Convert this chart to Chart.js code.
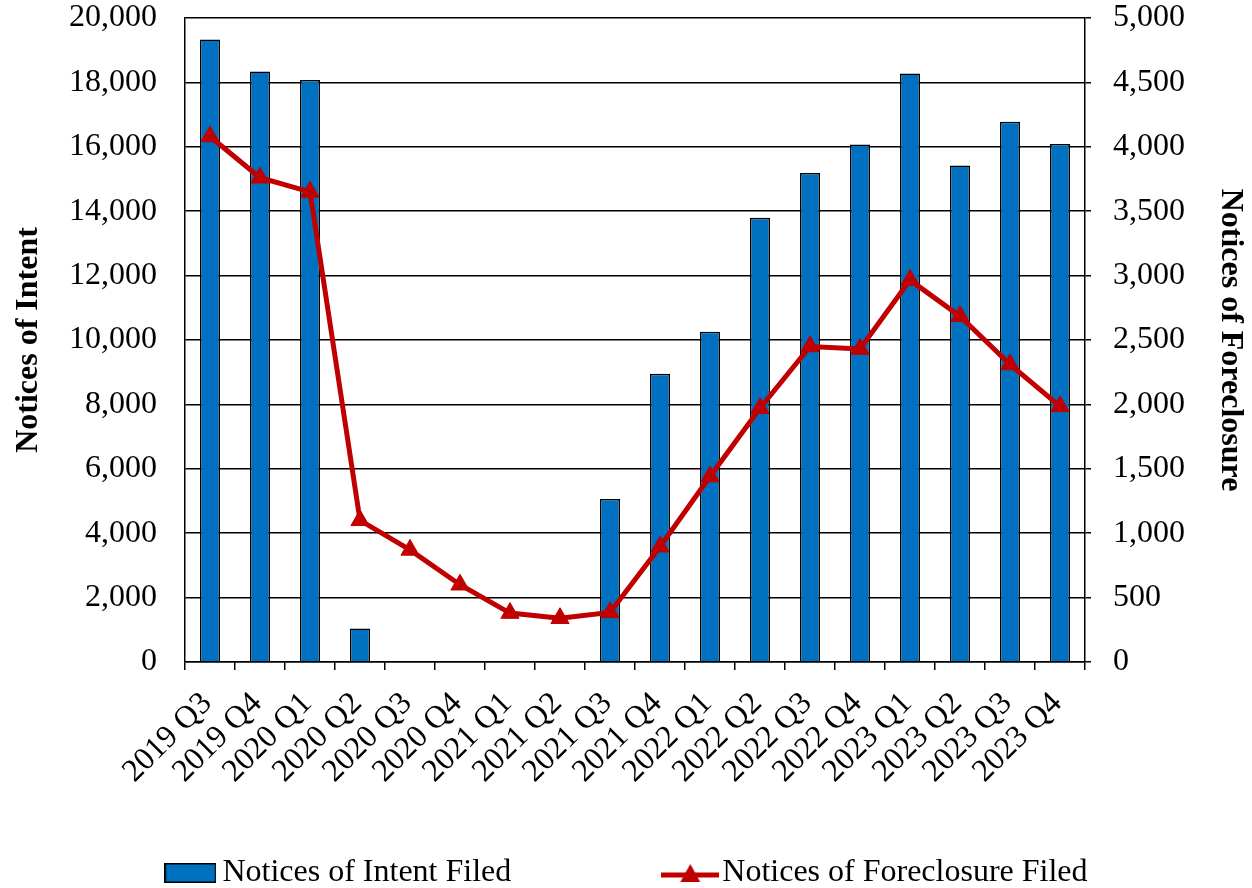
<!DOCTYPE html>
<html>
<head>
<meta charset="utf-8">
<script src="https://cdn.jsdelivr.net/npm/chart.js@4"></script>
<style>
  html, body { margin: 0; padding: 0; background: #fff; }
  #wrap { width: 1252px; height: 888px; }
</style>
</head>
<body>
<div id="wrap"><canvas id="chart"></canvas></div>
<script>
const quarters = ['2019 Q3', '2019 Q4', '2020 Q1', '2020 Q2', '2020 Q3', '2020 Q4', '2021 Q1', '2021 Q2', '2021 Q3',
  '2021 Q4', '2022 Q1', '2022 Q2', '2022 Q3', '2022 Q4', '2023 Q1', '2023 Q2', '2023 Q3', '2023 Q4'];
const intent_filed = [19330, 18340, 18075, 1040, 0, 0, 0, 0, 5060, 8950, 10260, 13800, 15190, 16070, 18280, 15420, 16780, 16090];
const foreclosure_filed = [4080, 3760, 3650, 1100, 870, 600, 380, 340, 385, 895, 1440, 1970, 2450, 2430, 2965, 2685, 2310, 1985];

const blue = '#0070C0';
const red = '#C00000';

Chart.defaults.font.family = "'Liberation Serif', 'Times New Roman', serif";
Chart.defaults.font.size = 32;
Chart.defaults.color = '#000';

// legend swatches
function barSwatch() {
  const c = document.createElement('canvas');
  c.width = 52; c.height = 20;
  const g = c.getContext('2d');
  g.fillStyle = blue;
  g.fillRect(0, 0, 52, 20);
  g.strokeStyle = '#000';
  g.lineWidth = 1.5;
  g.strokeRect(0.75, 0.75, 50.5, 18.5);
  return c;
}
function lineSwatch() {
  const c = document.createElement('canvas');
  c.width = 58; c.height = 24;
  const g = c.getContext('2d');
  g.strokeStyle = red;
  g.lineWidth = 5;
  g.beginPath(); g.moveTo(0, 14); g.lineTo(58, 14); g.stroke();
  g.fillStyle = red;
  g.beginPath(); g.moveTo(29, 3); g.lineTo(39, 21); g.lineTo(19, 21); g.closePath(); g.fill();
  return c;
}

// legend: keep the wide gap between the two items but a short box
const LEGEND_H = 40;
const LEGEND_TEXT_TOP = 9;
const legendRow = {
  id: 'legendRow',
  beforeLayout(chart) {
    const lg = chart.legend;
    if (!lg || lg._rowPatched) return;
    lg._rowPatched = true;
    const fit = lg.fit;
    const draw = lg.draw;
    lg.fit = function () { fit.call(this); this.height = LEGEND_H; };
    lg.draw = function () {
      const top = this.top;
      this.top = top + LEGEND_TEXT_TOP - this.options.labels.padding;
      draw.call(this);
      this.top = top;
    };
  }
};

const ctx = document.getElementById('chart');

var chart = new Chart(ctx, {
  type: 'bar',
  data: {
    labels: quarters,
    datasets: [{
      type: 'line',
      label: 'Notices of Foreclosure Filed',
      data: foreclosure_filed,
      yAxisID: 'y1',
      borderColor: red,
      backgroundColor: red,
      borderWidth: 5,
      pointStyle: 'triangle',
      pointRadius: 10.5,
      pointBorderWidth: 1,
      pointBackgroundColor: red,
      pointBorderColor: red,
      tension: 0,
      order: 0
    }, {
      type: 'bar',
      label: 'Notices of Intent Filed',
      data: intent_filed,
      yAxisID: 'y',
      backgroundColor: blue,
      borderColor: '#000',
      borderWidth: 1.5,
      barPercentage: 0.4,
      categoryPercentage: 1.0,
      order: 1
    }]
  },
  plugins: [legendRow],
  options: {
    responsive: true,
    maintainAspectRatio: false,
    animation: false,
    layout: { padding: { top: 18, left: 10, right: 0, bottom: 0 } },
    scales: {
      x: {
        grid: {
          drawOnChartArea: false,
          drawTicks: true,
          tickLength: 8,
          color: '#000',
          lineWidth: 1.5
        },
        border: { display: true, color: '#000', width: 1.5 },
        ticks: { autoSkip: false, maxRotation: 45, minRotation: 45, padding: 15, labelOffset: -3 },
        afterFit: function(scale) {
          scale.height = 186;
          scale.paddingLeft = 0;
          scale.paddingRight = 0;
        }
      },
      y: {
        position: 'left',
        min: 0,
        max: 20000,
        ticks: {
          stepSize: 2000,
          padding: 28,
          callback: function(v) { return v.toLocaleString('en-US'); }
        },
        grid: { color: '#000', lineWidth: 1.5, drawTicks: false },
        border: { display: true, color: '#000', width: 1.5 },
        title: {
          display: true,
          text: 'Notices of Intent',
          font: { size: 32, weight: 'bold' },
          padding: { top: 0, bottom: 0 }
        },
        afterFit: function(scale) {
          scale.width = 175;
          scale.paddingTop = 0;
          scale.paddingBottom = 0;
        }
      },
      y1: {
        position: 'right',
        min: 0,
        max: 5000,
        ticks: {
          stepSize: 500,
          padding: 22,
          callback: function(v) { return v.toLocaleString('en-US'); }
        },
        grid: { drawOnChartArea: false, drawTicks: true, tickLength: 6, color: '#000', lineWidth: 1.5 },
        border: { display: true, color: '#000', width: 1.5 },
        title: {
          display: true,
          text: 'Notices of Foreclosure',
          font: { size: 32, weight: 'bold' },
          padding: { top: 3, bottom: 0 }
        },
        afterFit: function(scale) {
          scale.width = 167;
          scale.paddingTop = 0;
          scale.paddingBottom = 0;
        }
      }
    },
    plugins: {
      tooltip: { enabled: false },
      legend: {
        position: 'bottom',
        labels: {
          usePointStyle: true,
          pointStyleWidth: 32,
          padding: 163,
          generateLabels: function(chart) {
            return [
              { text: 'Notices of Intent Filed', pointStyle: barSwatch(), fillStyle: blue, strokeStyle: '#000', lineWidth: 0, datasetIndex: 1, hidden: false },
              { text: 'Notices of Foreclosure Filed', pointStyle: lineSwatch(), fillStyle: red, strokeStyle: red, lineWidth: 0, datasetIndex: 0, hidden: false }
            ];
          }
        }
      }
    }
  }
});
</script>
</body>
</html>
